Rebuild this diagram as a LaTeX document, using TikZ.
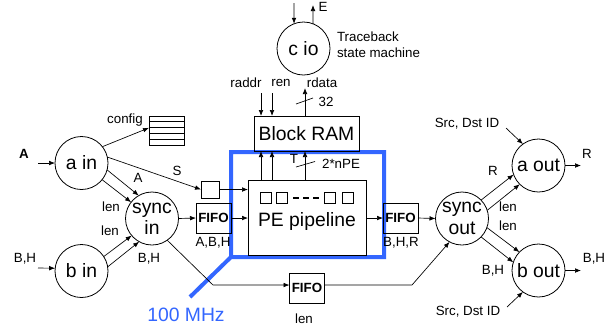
\documentclass[tikz,border=0pt]{standalone}
\usepackage{fontspec}
\setmainfont{Liberation Sans}
\usetikzlibrary{arrows.meta,calc}
\definecolor{mhzblue}{RGB}{51,102,255}
\begin{document}
\begin{tikzpicture}[x=0.75pt,y=-0.75pt,
  every node/.style={inner sep=0pt, outer sep=0pt},
  proc/.style={draw, circle, minimum size=39.75pt, font=\fontsize{14.5}{16}\selectfont, align=center, line width=0.6pt},
  lbl/.style={font=\fontsize{10}{12}\selectfont},
  big/.style={font=\fontsize{14.5}{16}\selectfont},
  fifo/.style={draw, line width=0.6pt, minimum width=26.25pt, minimum height=22.5pt, font=\bfseries\fontsize{10}{11}\selectfont},
  blk/.style={draw, line width=0.6pt},
  conn/.style={-{Latex[length=4.5pt,width=3.5pt]}, line width=0.5pt},
  wire/.style={line width=0.5pt}
]
\path[use as bounding box] (0,0) rectangle (616,333);

% clock domain boundary
\draw[mhzblue, line width=3pt, line join=miter] (190,297) -- (231,257) -- (231,152) -- (384,152) -- (384,257) -- (231,257);
\node[big, text=mhzblue] (mhz) at (186,315) {100 MHz};

% circles
\node[proc] (cio) at (303.5,48.5) {c io};
\node[proc] (ain) at (81.5,163) {a in};
\node[proc] (bin) at (81.5,271) {b in};
\node[proc] (syncin) at (152,218.5) {sync\\in};
\node[proc] (syncout) at (462,218.5) {sync\\out};
\node[proc] (aout) at (538.5,165.5) {a out};
\node[proc] (bout) at (538.5,270.5) {b out};

% boxes
\node[blk, big, minimum width=78.75pt, minimum height=26.25pt] (ram) at (306.5,133.5) {Block RAM};
\node[blk, minimum width=88.5pt, minimum height=56.25pt] (pe) at (307,217.5) {};
\node[big] (petxt) at (307,221) {PE pipeline};
\foreach \x in {265.5,282,329.5,347.5} {
  \draw[line width=0.5pt] (\x-5.5,192) rectangle (\x+5.5,203);
}
\draw[line width=0.8pt, dash pattern=on 4.5pt off 3pt] (293,198) -- (320,198);

\node[blk, minimum width=13.5pt, minimum height=12.75pt] (reg) at (210,189.5) {};
\node[fifo] (fifo1) at (213.5,218) {FIFO};
\node[fifo] (fifo2) at (400.5,218) {FIFO};
\node[fifo] (fifo3) at (307,288) {FIFO};
\node[lbl] (l-abh) at (213,243) {A,B,H};
\node[lbl] (l-bhr) at (401,243) {B,H,R};
\node[lbl] (l-len3) at (304,319) {len};

% config register
\node[blk, minimum width=26.25pt, minimum height=21.75pt] (cfg) at (166.5,130.5) {};
\foreach \k in {1,...,4} {
  \draw[line width=0.5pt] (149,116+5.8*\k) -- (184,116+5.8*\k);
}
\node[lbl] (l-cfg) at (125,120) {config};

% inputs
\node[lbl, font=\bfseries\fontsize{10}{12}\selectfont] (l-A) at (24,154) {A};
\coordinate (inA) at (38,163);
\draw[conn] (inA) -- (ain.west);
\node[lbl] (l-BH) at (25,259) {B,H};
\coordinate (inB) at (38,268);
\draw[conn] (inB) -- (bin.174);

% a in connections
\draw[conn] (ain.38) -- ([yshift=2pt]cfg.west);
\draw[conn] (ain.13) -- (reg.west);
\node[lbl] (l-S) at (177,171) {S};
\draw[conn] (ain.-15) -- (syncin.120);
\node[lbl] (l-A2) at (138,178) {A};
\draw[conn] (ain.-39) -- (syncin.142);
\node[lbl] (l-len1) at (111,207) {len};

% b in connections
\draw[conn] (bin.33) -- (syncin.-140);
\node[lbl] (l-len2) at (110,231) {len};
\draw[conn] (bin.9) -- (syncin.-119);
\node[lbl] (l-BH2) at (149,259) {B,H};

% pipeline path
\draw[conn] (syncin.east) -- (fifo1.west);
\draw[conn] (fifo1.east) -- (pe.west |- fifo1.east);
\draw[conn] (reg.east) -- (pe.west |- reg.east);
\draw[conn] (pe.east |- fifo2.west) -- (fifo2.west);
\draw[conn] (fifo2.east) -- (syncout.west);

% bypass FIFO
\coordinate (b1) at (213,285);
\coordinate (b2) at (412,285);
\draw[conn] (syncin.-55) -- (b1) -- ([yshift=2.25pt]fifo3.west);
\draw[conn] ([yshift=2.25pt]fifo3.east) -- (b2) -- (syncout.-118);

% sync out connections
\draw[conn] (syncout.44) -- (aout.-160);
\node[lbl] (l-R) at (493,171) {R};
\draw[conn] (syncout.18) -- (aout.-135);
\node[lbl] (l-len4) at (508,207) {len};
\draw[conn] (syncout.-20) -- (bout.136);
\node[lbl] (l-len5) at (508,226) {len};
\draw[conn] (syncout.-44) -- (bout.162);
\node[lbl] (l-BH3) at (493,271) {B,H};

% outputs
\coordinate (oR) at (581,165.5);
\draw[conn] (aout.east) -- (oR);
\node[lbl] (l-R2) at (587,154) {R};
\coordinate (oB) at (581,270.5);
\draw[conn] (bout.east) -- (oB);
\node[lbl] (l-BH4) at (594,259) {B,H};
\node[lbl] (src1) at (467,124) {Src, Dst ID};
\node[lbl] (src2) at (468,312) {Src, Dst ID};
\coordinate (s1) at (506,128);
\coordinate (s2) at (507,307);
\draw[conn] (s1) -- (aout.126);
\draw[conn] (s2) -- (bout.-126);

% c io
\coordinate (ci) at (294,3);
\coordinate (co) at (313,5);
\draw[conn] (ci) -- (cio.111);
\draw[conn] (cio.69) -- (co);
\node[lbl] (l-E) at (323,7) {E};
\node[lbl, align=left, anchor=west, font=\fontsize{10}{12}\selectfont] (l-tb) at (337,45) {Traceback\\state machine};

% Block RAM ports
\coordinate (xr1) at (261,93);
\coordinate (xr2) at (272,93);
\coordinate (xr3) at (305,88);
\node[lbl] (l-raddr) at (246,83) {raddr};
\node[lbl] (l-ren) at (281,83) {ren};
\node[lbl] (l-rdata) at (322,83) {rdata};
\draw[conn] (xr1) -- (xr1 |- ram.north);
\draw[conn] (xr2) -- (xr2 |- ram.north);
\draw[conn] (xr3 |- ram.north) -- (xr3);
\draw[wire] (296,104) -- (313,98);
\node[lbl] (l-32) at (326,102) {32};

\draw[conn] (xr1 |- pe.north) -- (xr1 |- ram.south);
\draw[conn] (xr2 |- pe.north) -- (xr2 |- ram.south);
\draw[conn] (xr3 |- pe.north) -- (xr3 |- ram.south);
\draw[wire] (296,167) -- (315,161.5);
\node[lbl] (l-T) at (294,159) {T};
\node[lbl] (l-npe) at (341,164) {2*nPE};
\end{tikzpicture}
\end{document}
